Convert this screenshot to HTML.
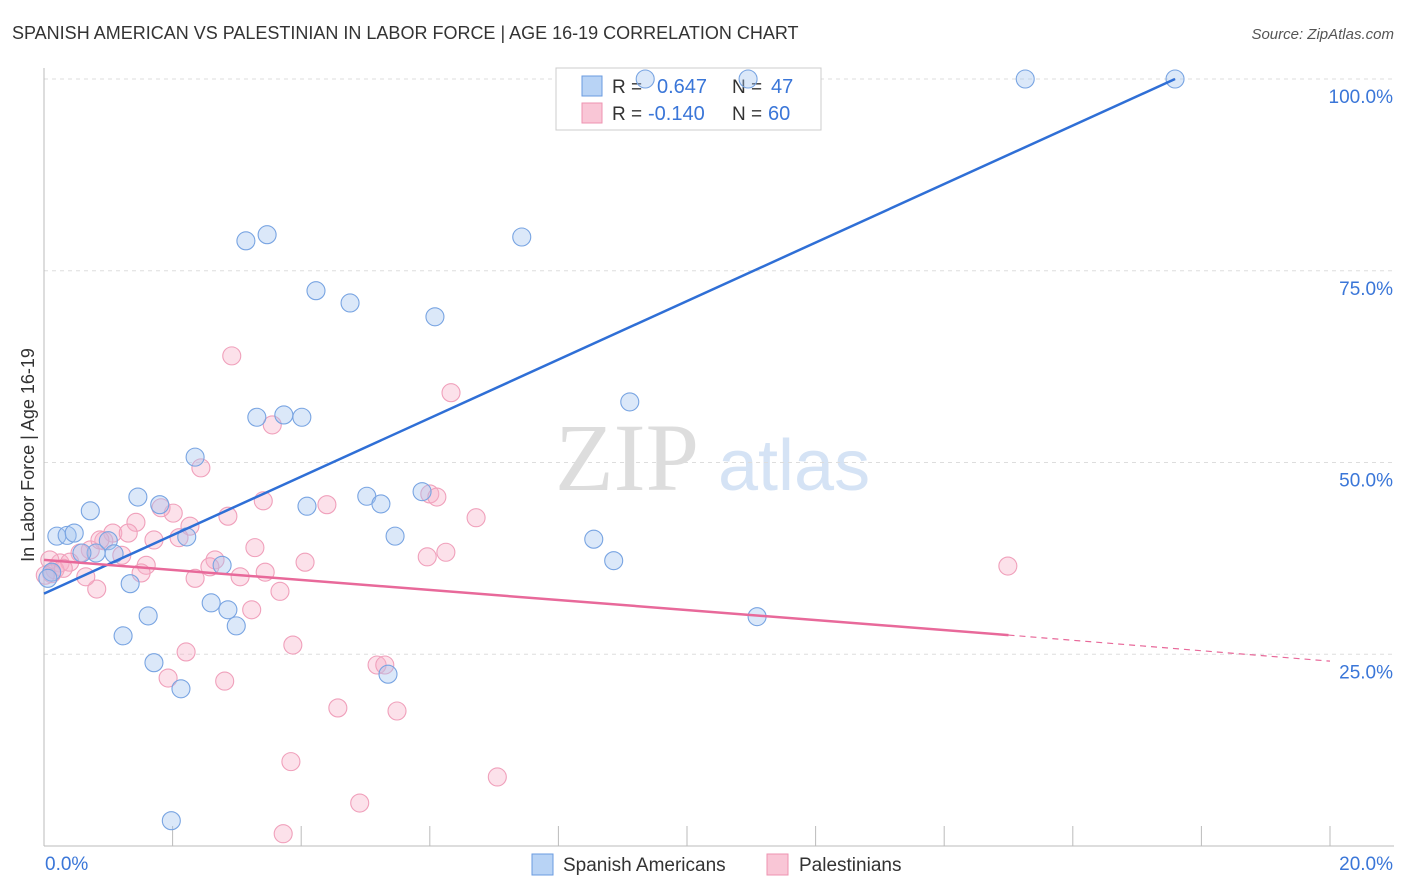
<!DOCTYPE html>
<html><head><meta charset="utf-8"><style>
body{margin:0;background:#fff;font-family:"Liberation Sans",sans-serif}
svg{display:block}
</style></head><body>
<svg id="c" width="1406" height="892" xmlns="http://www.w3.org/2000/svg">
<text x="12" y="39" font-size="18" fill="#333">SPANISH AMERICAN VS PALESTINIAN IN LABOR FORCE | AGE 16-19 CORRELATION CHART</text>
<text x="1394" y="39" font-size="15" fill="#555" text-anchor="end" font-style="italic">Source: ZipAtlas.com</text>
<text x="555" y="490" font-size="96" fill="#ddd" font-family="Liberation Serif">ZIP</text>
<text x="718" y="490" font-size="72" fill="#d5e3f5">atlas</text>
<text transform="translate(34,455) rotate(-90)" font-size="18" fill="#333" text-anchor="middle">In Labor Force | Age 16-19</text>
<g id="grid"></g>
<g>
<rect x="556" y="68" width="265" height="62" fill="#fff" stroke="#ccc"/>
<rect x="582" y="76" width="20" height="20" fill="#b8d3f5" stroke="#6a9be0"/>
<rect x="582" y="103" width="20" height="20" fill="#f9c6d6" stroke="#ee93b0"/>
<text x="612" y="93" font-size="19" fill="#333">R =</text>
<text x="657" y="93" font-size="20" fill="#3a76d8">0.647</text>
<text x="732" y="93" font-size="19" fill="#333">N =</text>
<text x="771" y="93" font-size="20" fill="#3a76d8">47</text>
<text x="612" y="120" font-size="19" fill="#333">R =</text>
<text x="648" y="120" font-size="20" fill="#3a76d8">-0.140</text>
<text x="732" y="120" font-size="19" fill="#333">N =</text>
<text x="768" y="120" font-size="20" fill="#3a76d8">60</text>
</g>
<g id="pts"></g><g id="lines"></g>
<g>
<rect x="532" y="854" width="21" height="21" fill="#b8d3f5" stroke="#6a9be0"/>
<text x="563" y="871" font-size="19" fill="#333">Spanish Americans</text>
<rect x="767" y="854" width="21" height="21" fill="#f9c6d6" stroke="#ee93b0"/>
<text x="799" y="871" font-size="19" fill="#333">Palestinians</text>
</g>
</svg>
<script>
const xTicks=[0,20];
const yTicks=[25,50,75,100];
const blueX=[9.35,10.95,15.26,17.59,3.14,3.47,7.43,4.23,4.76,6.08,9.11,3.31,3.73,4.01,2.35,1.46,1.80,0.72,4.09,5.02,5.24,5.88,0.20,0.36,0.47,0.81,0.59,1.00,1.09,2.22,2.77,5.46,8.55,8.86,0.12,1.34,2.60,2.86,2.99,1.62,1.23,1.71,2.13,5.35,1.98,11.09,0.06];
const blueY=[100,100,100,100,78.9,79.7,79.4,72.4,70.8,69.0,57.9,55.9,56.2,55.9,50.7,45.5,44.5,43.7,44.3,45.6,44.6,46.2,40.4,40.5,40.8,38.2,38.2,39.8,38.1,40.3,36.6,40.4,40.0,37.2,35.7,34.2,31.7,30.8,28.7,30.0,27.4,23.9,20.5,22.4,3.3,29.9,34.9];
const pinkX=[2.92,6.33,3.55,2.44,3.41,4.40,6.00,6.11,6.72,2.86,1.43,2.01,1.82,2.27,1.07,1.31,1.71,2.10,0.93,1.21,0.72,0.56,0.25,0.09,0.40,0.17,1.59,1.51,2.66,2.58,3.28,3.05,2.35,3.44,4.06,3.67,0.82,0.65,3.23,3.87,2.21,1.93,2.81,5.18,5.30,4.57,5.49,3.84,7.05,4.91,3.72,14.99,5.96,6.25,0.12,0.30,0.87,0.02];
const pinkY=[63.9,59.1,54.9,49.3,45.0,44.5,45.9,45.5,42.8,43.0,42.2,43.4,44.1,41.7,40.8,40.8,39.9,40.2,39.8,37.9,38.6,38.2,36.9,37.3,37.0,36.0,36.6,35.6,37.3,36.4,38.9,35.1,34.9,35.7,37.0,33.2,33.5,35.1,30.8,26.2,25.3,21.9,21.5,23.6,23.6,18.0,17.6,11.0,9.0,5.6,1.6,36.5,37.7,38.3,35.5,36.2,39.9,35.3];
const blueLine=[0,32.9,17.59,100];
const pinkLine=[0,37.3,15,27.5,20,24.1];
const X=v=>44+v*64.3, Y=v=>846-v*7.67;
const NS="http://www.w3.org/2000/svg";
function mk(p,t,a){const e=document.createElementNS(NS,t);for(const k in a)e.setAttribute(k,a[k]);p.appendChild(e);return e;}
const g=document.getElementById('grid');
yTicks.forEach(t=>{
 const l=mk(g,'line',{x1:44,x2:1394,y1:Y(t),y2:Y(t),stroke:'#ddd','stroke-dasharray':'4,4'});
 
 
 const tx=mk(g,'text',{x:1393,y:Y(t)+24,'font-size':19,fill:'#3a76d8','text-anchor':'end'});tx.textContent=t.toFixed(1)+'%';
 
 
});
mk(g,'line',{x1:44,x2:44,y1:68,y2:846,stroke:'#bbb'});
mk(g,'line',{x1:44,x2:1394,y1:846,y2:846,stroke:'#bbb'});
for(let i=1;i<=10;i++){const x=X(i*2);mk(g,'line',{x1:x,x2:x,y1:826,y2:846,stroke:'#bbb'});}
xTicks.forEach((t,i)=>{const tx=mk(g,'text',{x:i?1393:45,y:870,'font-size':19,fill:'#3a76d8','text-anchor':i?'end':'start'});tx.textContent=t.toFixed(1)+'%';
 
 });
const P=document.getElementById('pts');
pinkX.forEach((v,i)=>{const c=mk(P,'circle',{cx:X(v),cy:Y(pinkY[i]),r:9,fill:'rgba(247,175,200,0.38)',stroke:'#f0a0bb','stroke-width':1.1});
 
 });
blueX.forEach((v,i)=>{const c=mk(P,'circle',{cx:X(v),cy:Y(blueY[i]),r:9,fill:'rgba(160,195,240,0.38)',stroke:'#78a4e2','stroke-width':1.1});
 
 });
const L=document.getElementById('lines');
const b=mk(L,'line',{x1:X(blueLine[0]),y1:Y(blueLine[1]),x2:X(blueLine[2]),y2:Y(blueLine[3]),stroke:'#2f6fd6','stroke-width':2.5});


const p1=mk(L,'line',{x1:X(pinkLine[0]),y1:Y(pinkLine[1]),x2:X(pinkLine[2]),y2:Y(pinkLine[3]),stroke:'#e8699a','stroke-width':2.5});


const p2=mk(L,'line',{x1:X(pinkLine[2]),y1:Y(pinkLine[3]),x2:X(pinkLine[4]),y2:Y(pinkLine[5]),stroke:'#e8699a','stroke-width':1.2,'stroke-dasharray':'6,5'});


</script>
</body></html>
